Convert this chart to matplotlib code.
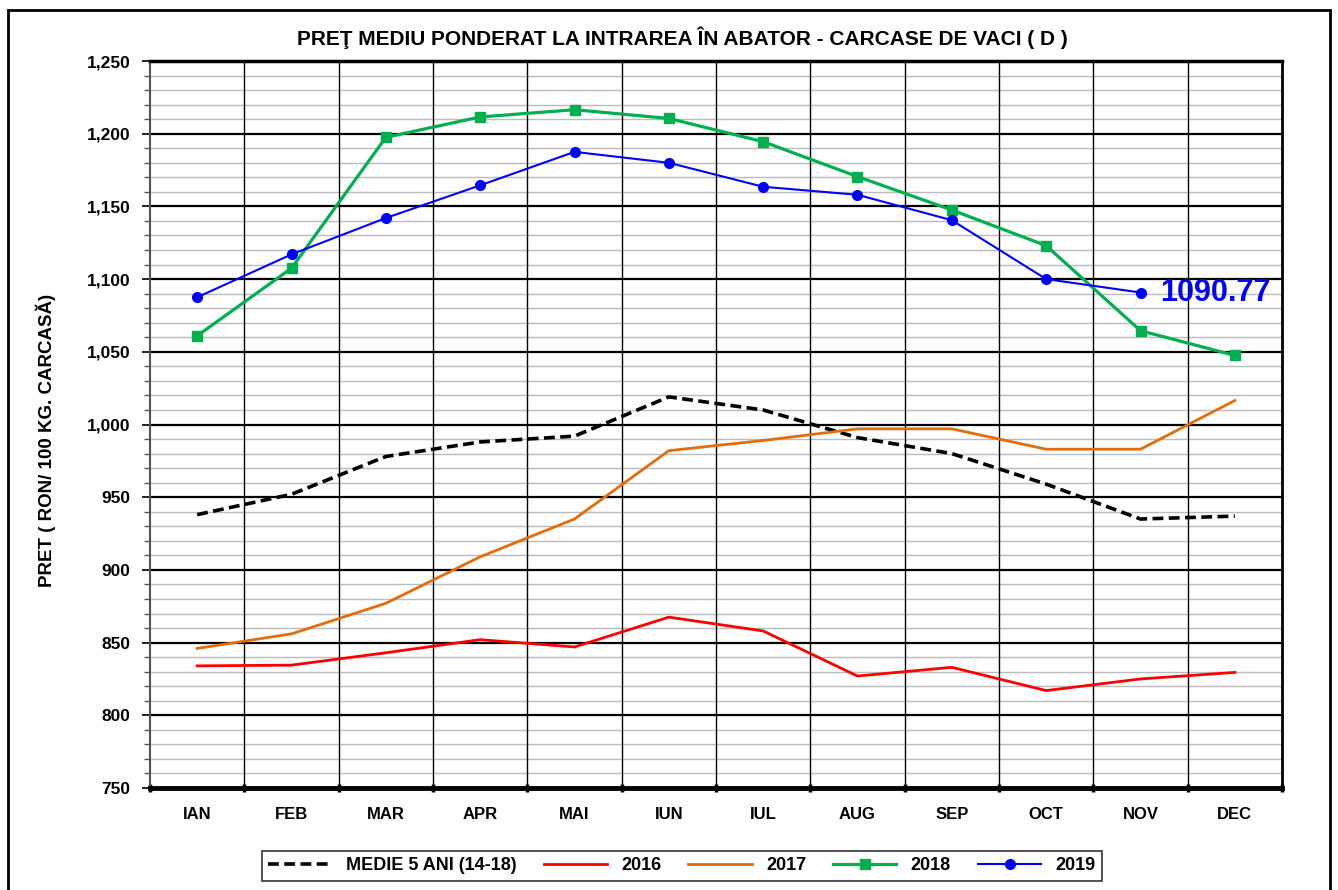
import matplotlib
matplotlib.use("Agg")
import matplotlib.pyplot as plt
import numpy as np
from matplotlib.ticker import MultipleLocator, FuncFormatter, FixedLocator, NullFormatter
from matplotlib.patches import Rectangle

plt.rcParams['font.family'] = ['Liberation Sans', 'DejaVu Sans']
plt.rcParams['font.weight'] = 'bold'

months = ["IAN", "FEB", "MAR", "APR", "MAI", "IUN", "IUL", "AUG", "SEP", "OCT", "NOV", "DEC"]
medie = [938, 952, 978, 988, 992, 1019, 1010, 991, 980, 959, 935, 937]
y2016 = [834, 834.5, 843, 852, 847, 867.5, 858, 827, 833, 817, 825, 829.5]
y2017 = [846, 856, 877, 909, 935, 982, 989, 997, 997, 983, 983, 1016.5]
y2018 = [1061, 1107.5, 1197.5, 1211.5, 1216.5, 1210.5, 1194.5, 1170.5, 1147.5, 1123, 1064.5, 1047.5]
y2019 = [1087.5, 1117, 1142, 1164.5, 1187.5, 1180, 1163.5, 1158, 1140.5, 1100, 1090.77]
last_label = "1090.77"

fig = plt.figure(figsize=(13.38, 8.9), dpi=100)
ax = fig.add_axes([150/1338, 1-788/890, (1282-150)/1338, (788-61)/890])

x = np.arange(len(months))
ax.plot(x, medie, color='black', lw=2.6, ls=(0, (3, 1.5)), label='MEDIE 5 ANI (14-18)', zorder=5)
ax.plot(x, y2016, color='#FF0000', lw=2.0, label='2016', zorder=5)
ax.plot(x, y2017, color='#E46C0A', lw=2.0, label='2017', zorder=5)
ax.plot(x, y2018, color='#00B050', lw=2.3, marker='s', ms=7, label='2018', zorder=6)
ax.plot(np.arange(len(y2019)), y2019, color='#0000FF', lw=1.5, marker='o', ms=7, label='2019', zorder=7)

ax.annotate(last_label, (len(y2019)-1, y2019[-1]), xytext=(14, 0), textcoords='offset points',
            color='#0000FF', fontsize=22, fontweight='bold', va='center', ha='left', zorder=8)

ax.set_xlim(-0.5, len(months)-0.5)
ax.set_ylim(750, 1250)
ax.set_xticks(x)
ax.set_xticklabels(months, fontsize=12, fontweight='bold')
bounds = np.arange(-0.5, len(months), 1)
ax.xaxis.set_minor_locator(FixedLocator(bounds))
ax.xaxis.set_minor_formatter(NullFormatter())
ax.tick_params(axis='x', which='major', length=0, pad=14)
ax.tick_params(axis='x', which='minor', length=6, width=2.5, direction='inout')
for b in bounds[1:-1]:
    ax.axvline(b, color='black', lw=1.0, zorder=2.5)

ax.yaxis.set_major_locator(MultipleLocator(50))
ax.yaxis.set_minor_locator(MultipleLocator(10))
ax.yaxis.set_major_formatter(FuncFormatter(lambda v, p: f"{int(v):,}"))
ax.tick_params(axis='y', which='major', length=6, width=1.2, labelsize=12.5, pad=8)
ax.tick_params(axis='y', which='minor', length=4, width=1.0, color='#555555')
for lab in ax.get_yticklabels():
    lab.set_fontweight('bold')
ax.grid(axis='y', which='major', color='black', lw=1.6, zorder=2)
ax.grid(axis='y', which='minor', color='#BBBBBB', lw=1.0, zorder=1)
ax.set_axisbelow(True)

ax.spines['bottom'].set_linewidth(3.5)
ax.spines['top'].set_linewidth(2.5)
ax.spines['right'].set_linewidth(2.0)
ax.spines['left'].set_linewidth(1.5)
ax.spines['left'].set_color('#555555')

ax.set_ylabel('PRET ( RON/ 100 KG. CARCASĂ)', fontsize=13.5, fontweight='bold')
ax.yaxis.set_label_coords((56-150)/(1282-150), (788-440)/(788-61))
fig.text(682/1338, 1-38/890, 'PREŢ MEDIU PONDERAT LA INTRAREA ÎN ABATOR - CARCASE DE VACI ( D )',
         ha='center', va='center', fontsize=15, fontweight='bold')

leg = ax.legend(loc='center', bbox_to_anchor=((682-150)/(1282-150), -(866-788)/(788-61)),
                ncol=5, frameon=True, fancybox=False, edgecolor='black',
                handlelength=3.5, columnspacing=1.5, borderpad=0.35,
                prop={'weight': 'bold', 'size': 13})
leg.get_frame().set_linewidth(1.2)

fig.patches.append(Rectangle((8/1338, -0.05), (1330-8)/1338, 1.05 - 10/890, transform=fig.transFigure,
                             fill=False, edgecolor='black', lw=2.0))

fig.savefig('out.png', dpi=100)
